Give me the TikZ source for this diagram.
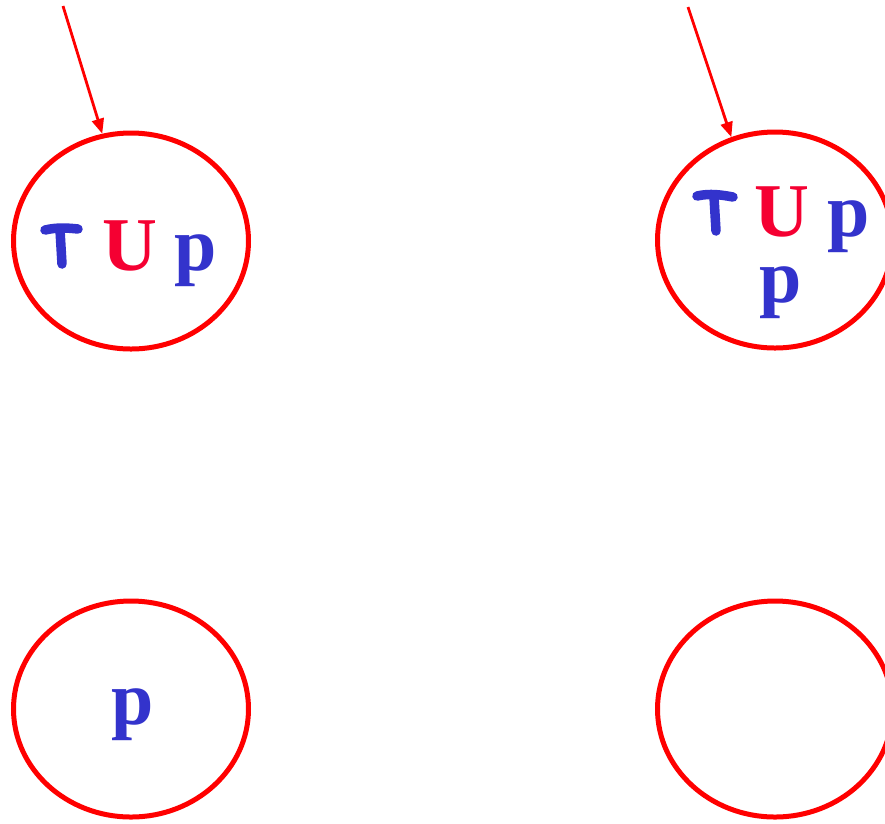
\documentclass[tikz,border=0pt]{standalone}
\usepackage{fontspec}
\setmainfont{Liberation Serif}
\usetikzlibrary{arrows.meta,shapes.geometric}
\definecolor{ringred}{RGB}{255,0,0}
\definecolor{symblue}{RGB}{51,51,204}
\definecolor{unionred}{RGB}{245,0,50}
\begin{document}
\begin{tikzpicture}[x=1pt,y=-1pt,
  ring/.style={ellipse,draw=ringred,line width=5pt,minimum width=235pt,minimum height=216pt,inner sep=0pt},
  pointer/.style={draw=ringred,line width=2.8pt,-{Triangle[length=15pt,width=12pt]}},
  sym/.style={font=\fontsize{76}{76}\selectfont\bfseries,anchor=base,inner sep=0pt,text=symblue,text height=36pt,text depth=17pt},
  cup/.style={sym,text=unionred,text height=51pt,text depth=1pt},
  topmark/.style={draw=symblue,line width=9.5pt,line cap=round}]
\useasboundingbox (0,0) rectangle (885,823);

% four states
\node[ring] (s1) at (131,241) {};
\node[ring] (s2) at (775,240) {};
\node[ring] (s3) at (131,709) {};
\node[ring] (s4) at (775,709) {};

% entry pointers
\coordinate (e1) at (63,6);
\coordinate (e2) at (688,7);
\draw[pointer] (e1) -- (s1.105);
\draw[pointer] (e2) -- (s2.113);

% labels of the first state
\draw[topmark] (45,230) .. controls (58,227) and (68,228) .. (78,229);
\draw[topmark] (60,230) -- (62,264);
\node[cup] (u1) at (130,270) {U};
\node[sym] (p1) at (196,270) {p};

% labels of the second state
\draw[topmark] (697,196) .. controls (710,193) and (722,195) .. (733,197);
\draw[topmark] (714,197) -- (716,231);
\node[cup] (u2) at (782,236) {U};
\node[sym] (p2) at (849,236) {p};
\node[sym] (p3) at (781,302) {p};

% label of the third state
\node[sym] (p4) at (133,724) {p};
\end{tikzpicture}
\end{document}
